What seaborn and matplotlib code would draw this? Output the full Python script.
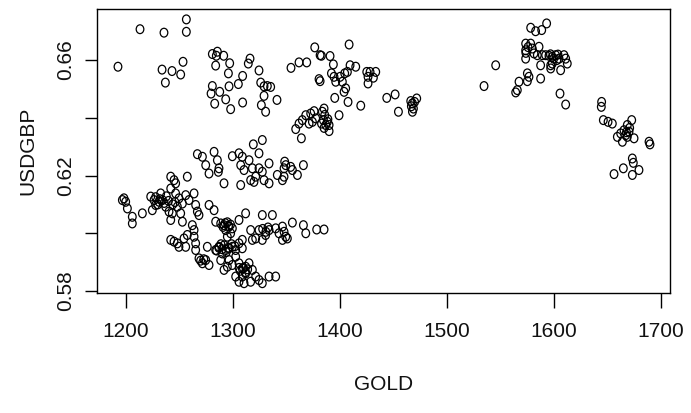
import matplotlib
matplotlib.use("Agg")
import matplotlib.pyplot as plt
from matplotlib.path import Path
from matplotlib.transforms import Affine2D
import seaborn as sns
import pandas as pd

# ---- data (GOLD price vs USD/GBP) ----
gold_top_left = [1192.8, 1213.4, 1235.8, 1256.7, 1256.7, 1234.0, 1243.3, 1251.4, 1253.6, 1237.1,
                 1281.0, 1285.7, 1284.7, 1291.6, 1284.1, 1297.2, 1296.0, 1281.0, 1279.8, 1287.9,
                 1283.2, 1293.5, 1298.1, 1296.6, 1305.3, 1309.3, 1309.3, 1316.2, 1314.6, 1324.6,
                 1326.2, 1329.3, 1332.4, 1335.5, 1329.3, 1326.8, 1330.8, 1341.4, 1354.5, 1327.7,
                 1319.3]
usd_top_left = [0.6577, 0.6707, 0.6695, 0.6741, 0.6698, 0.6567, 0.6562, 0.6550, 0.6594, 0.6522,
                0.6621, 0.6629, 0.6615, 0.6615, 0.6581, 0.6589, 0.6554, 0.6510, 0.6484, 0.6490,
                0.6449, 0.6464, 0.6430, 0.6509, 0.6517, 0.6545, 0.6453, 0.6605, 0.6588, 0.6564,
                0.6522, 0.6509, 0.6510, 0.6507, 0.6476, 0.6444, 0.6421, 0.6462, 0.6573, 0.6323,
                0.6308]

gold_top_mid = [1362.0, 1369.2, 1376.7, 1381.7, 1382.9, 1391.0, 1394.1, 1408.8, 1392.3, 1394.7,
                1400.4, 1396.3, 1402.5, 1404.7, 1407.2, 1409.7, 1415.0, 1405.6, 1404.1, 1380.7,
                1381.7, 1425.3, 1428.4, 1433.7, 1426.5, 1431.5, 1426.5, 1444.0, 1451.8, 1454.9,
                1466.4, 1468.0, 1468.9, 1468.0, 1472.0, 1395.4, 1407.8, 1419.7, 1399.4, 1385.4,
                1383.8, 1376.1, 1372.9, 1368.3, 1365.1, 1362.0, 1358.9, 1364.2, 1371.4, 1374.5,
                1384.8, 1387.0, 1390.1, 1385.4, 1390.1, 1388.5, 1377.6, 1386.0, 1389.0, 1383.0,
                1467.0, 1470.0]
usd_top_mid = [0.6592, 0.6592, 0.6644, 0.6617, 0.6615, 0.6614, 0.6585, 0.6654, 0.6554, 0.6542,
               0.6542, 0.6525, 0.6525, 0.6554, 0.6559, 0.6582, 0.6577, 0.6502, 0.6490, 0.6534,
               0.6527, 0.6559, 0.6559, 0.6559, 0.6542, 0.6539, 0.6519, 0.6469, 0.6481, 0.6421,
               0.6458, 0.6450, 0.6432, 0.6421, 0.6467, 0.6469, 0.6455, 0.6442, 0.6409, 0.6432,
               0.6421, 0.6423, 0.6415, 0.6409, 0.6392, 0.6380, 0.6361, 0.6329, 0.6380, 0.6386,
               0.6392, 0.6375, 0.6375, 0.6365, 0.6354, 0.6386, 0.6398, 0.6410, 0.6395, 0.6380,
               0.6440, 0.6455]

gold_mid_right = [1348.6, 1349.6, 1348.0, 1354.2, 1355.8, 1360.5, 1366.1, 1348.0, 1346.5, 1355.8,
                  1346.5, 1348.0, 1349.6, 1351.1, 1346.5, 1366.1, 1368.3, 1378.5, 1385.4]
usd_mid_right = [0.6248, 0.6236, 0.6225, 0.6230, 0.6219, 0.6202, 0.6236, 0.6196, 0.6184, 0.6037,
                 0.6023, 0.6005, 0.5988, 0.5982, 0.5977, 0.6028, 0.6000, 0.6013, 0.6013]

gold_right = [1534.9, 1545.8, 1578.5, 1583.1, 1588.8, 1593.4, 1573.8, 1573.8, 1573.8, 1578.5,
              1580.0, 1581.6, 1586.3, 1584.7, 1589.4, 1592.5, 1595.6, 1598.7, 1601.8, 1604.0,
              1605.0, 1609.6, 1611.2, 1612.7, 1598.7, 1597.2, 1597.2, 1606.5, 1587.8, 1575.4,
              1576.9, 1575.4, 1567.6, 1566.0, 1564.5, 1587.8, 1605.9, 1611.2, 1644.8, 1644.5,
              1646.4, 1650.8, 1654.8, 1668.8, 1672.9, 1665.7, 1662.6, 1659.5, 1664.2, 1668.8,
              1675.1, 1689.1, 1690.0, 1670.4, 1667.3, 1656.4, 1665.1, 1673.5, 1674.4, 1673.5,
              1679.7, 1600.0, 1597.0, 1603.0, 1576.0, 1574.0, 1671.0, 1668.0]
usd_right = [0.6510, 0.6582, 0.6712, 0.6700, 0.6704, 0.6727, 0.6657, 0.6634, 0.6605, 0.6657,
             0.6640, 0.6623, 0.6646, 0.6617, 0.6617, 0.6617, 0.6615, 0.6611, 0.6617, 0.6619,
             0.6605, 0.6617, 0.6605, 0.6588, 0.6588, 0.6571, 0.6582, 0.6565, 0.6582, 0.6554,
             0.6542, 0.6527, 0.6525, 0.6496, 0.6488, 0.6536, 0.6484, 0.6446, 0.6455, 0.6438,
             0.6392, 0.6386, 0.6380, 0.6375, 0.6392, 0.6357, 0.6346, 0.6334, 0.6317, 0.6334,
             0.6329, 0.6317, 0.6308, 0.6352, 0.6340, 0.6205, 0.6225, 0.6259, 0.6244, 0.6202,
             0.6219, 0.6605, 0.6620, 0.6600, 0.6645, 0.6625, 0.6365, 0.6350]

gold_low_top = [1267.0, 1271.7, 1274.8, 1282.6, 1285.7, 1287.2, 1286.6, 1277.9, 1299.7, 1305.9,
                1309.0, 1315.3, 1324.6, 1307.5, 1310.6, 1318.4, 1324.6, 1321.5, 1327.7, 1334.0,
                1334.0, 1316.8, 1319.9, 1329.3, 1341.7, 1291.9, 1307.5, 1257.6]
usd_low_top = [0.6274, 0.6265, 0.6236, 0.6282, 0.6253, 0.6225, 0.6213, 0.6207, 0.6267, 0.6277,
               0.6265, 0.6253, 0.6277, 0.6236, 0.6219, 0.6225, 0.6225, 0.6196, 0.6213, 0.6242,
               0.6173, 0.6184, 0.6178, 0.6184, 0.6202, 0.6173, 0.6167, 0.6196]

gold_low_left = [1196.9, 1200.0, 1198.4, 1201.6, 1206.2, 1206.2, 1215.6, 1223.4, 1226.5, 1228.0,
                 1224.9, 1231.2, 1234.3, 1232.7, 1237.4, 1240.5, 1242.1, 1245.2, 1246.7, 1242.1,
                 1246.7, 1249.8, 1253.0, 1256.1, 1259.2, 1263.9, 1248.3, 1243.6, 1251.4, 1242.1,
                 1253.0, 1265.4, 1267.0, 1277.9, 1282.6, 1284.1, 1288.8, 1262.3, 1263.9, 1257.6,
                 1268.5, 1228.0, 1232.0, 1236.0, 1240.0, 1244.0, 1230.0, 1238.0, 1246.0]
usd_low_left = [0.6115, 0.6109, 0.6121, 0.6086, 0.6057, 0.6034, 0.6069, 0.6127, 0.6115, 0.6098,
                0.6080, 0.6109, 0.6115, 0.6138, 0.6092, 0.6075, 0.6196, 0.6184, 0.6173, 0.6155,
                0.6138, 0.6121, 0.6103, 0.6132, 0.6115, 0.6138, 0.6092, 0.6069, 0.6069, 0.6046,
                0.6040, 0.6098, 0.6075, 0.6098, 0.6080, 0.6040, 0.6034, 0.6028, 0.6011, 0.5994,
                0.6063, 0.6125, 0.6118, 0.6105, 0.6112, 0.6100, 0.6100, 0.6128, 0.6108]

gold_low_mid = [1242.1, 1245.2, 1248.3, 1249.8, 1254.5, 1256.1, 1263.9, 1265.4, 1265.4, 1268.5,
                1271.7, 1274.8, 1277.9, 1276.3, 1284.1, 1287.2, 1290.3, 1288.8, 1293.5, 1296.6,
                1299.7, 1302.8, 1305.9, 1309.0, 1302.8, 1296.6, 1295.0, 1291.9, 1299.7, 1305.9,
                1309.0, 1312.1, 1315.3, 1318.4, 1312.1, 1309.0, 1302.8, 1305.9, 1310.6, 1316.8,
                1321.5, 1324.6, 1327.7, 1334.0, 1340.2, 1293.5, 1296.6, 1299.7, 1291.9, 1295.0,
                1298.1, 1305.9, 1312.1, 1327.7, 1337.1, 1316.8, 1324.6, 1321.5, 1327.7, 1334.0,
                1340.2, 1330.8, 1343.3, 1318.4, 1309.0,
                1293.0, 1296.0, 1298.0, 1291.0, 1295.0, 1287.0, 1290.0, 1292.0, 1296.0, 1299.0,
                1302.0, 1294.0, 1289.0, 1285.0, 1307.0, 1310.0, 1312.0, 1306.0, 1314.0, 1328.0,
                1331.0, 1333.0, 1270.0, 1273.0]
usd_low_mid = [0.5977, 0.5971, 0.5965, 0.5953, 0.5982, 0.5953, 0.5988, 0.5965, 0.5942, 0.5913,
               0.5896, 0.5907, 0.5890, 0.5953, 0.5942, 0.5953, 0.5930, 0.5907, 0.5942, 0.5948,
               0.5953, 0.5942, 0.5965, 0.5948, 0.5919, 0.5907, 0.5884, 0.5873, 0.5890, 0.5896,
               0.5878, 0.5884, 0.5896, 0.5873, 0.5861, 0.5850, 0.5850, 0.5832, 0.5827, 0.5832,
               0.5850, 0.5838, 0.5827, 0.5850, 0.5850, 0.6011, 0.6023, 0.6017, 0.6028, 0.5988,
               0.6000, 0.6046, 0.6069, 0.6063, 0.6063, 0.6011, 0.6011, 0.5982, 0.5977, 0.6011,
               0.6017, 0.5994, 0.6000, 0.5977, 0.5977,
               0.6035, 0.6025, 0.6030, 0.6022, 0.6038, 0.5950, 0.5945, 0.5958, 0.5950, 0.5962,
               0.5955, 0.5935, 0.5962, 0.5940, 0.5870, 0.5880, 0.5865, 0.5880, 0.5875, 0.6015,
               0.6005, 0.6020, 0.5905, 0.5910]

x_ticks = [1200, 1300, 1400, 1500, 1600, 1700]
y_ticks = [0.58, 0.60, 0.62, 0.64, 0.66]
y_tick_labels = ["0.58", "", "0.62", "", "0.66"]

gold = (gold_top_left + gold_top_mid + gold_mid_right + gold_right +
        gold_low_top + gold_low_left + gold_low_mid)
usdgbp = (usd_top_left + usd_top_mid + usd_mid_right + usd_right +
          usd_low_top + usd_low_left + usd_low_mid)
df = pd.DataFrame({"GOLD": gold, "USDGBP": usdgbp})

# ---- styling ----
sns.set_style("white")
plt.rcParams["font.family"] = ["Liberation Sans", "DejaVu Sans"]

# slightly tall open circle (the reference image is a bit stretched vertically)
ellipse = Path.unit_circle().transformed(Affine2D().scale(1.0, 1.15))

fig = plt.figure(figsize=(6.91, 4.13), dpi=100)
ax = fig.add_axes([97 / 691, 1 - 293 / 413, (670 - 97) / 691, (293 - 9) / 413])

sns.scatterplot(data=df, x="GOLD", y="USDGBP", ax=ax, marker=ellipse, s=40,
                facecolor="none", edgecolor="black", linewidth=0.9)

ax.set_xlim(1173.2, 1708.7)
ax.set_ylim(0.5793, 0.6777)
ax.set_xticks(x_ticks)
ax.set_xticklabels([str(t) for t in x_ticks])
ax.set_yticks(y_ticks)
ax.set_yticklabels(y_tick_labels, rotation=90, va="center")

for sp in ax.spines.values():
    sp.set_visible(True)
    sp.set_color("black")
    sp.set_linewidth(1.0)

ax.tick_params(axis="x", direction="out", length=11, width=1, color="black",
               labelsize=15, pad=10, labelcolor="#111111", bottom=True)
ax.tick_params(axis="y", direction="out", length=8.5, width=1, color="black",
               labelsize=15, pad=7, labelcolor="#111111", left=True)

ax.set_xlabel("GOLD", fontsize=15, labelpad=24, color="#111111")
ax.set_ylabel("USDGBP", fontsize=15, labelpad=14, color="#111111")

fig.savefig("out.png", dpi=100)
